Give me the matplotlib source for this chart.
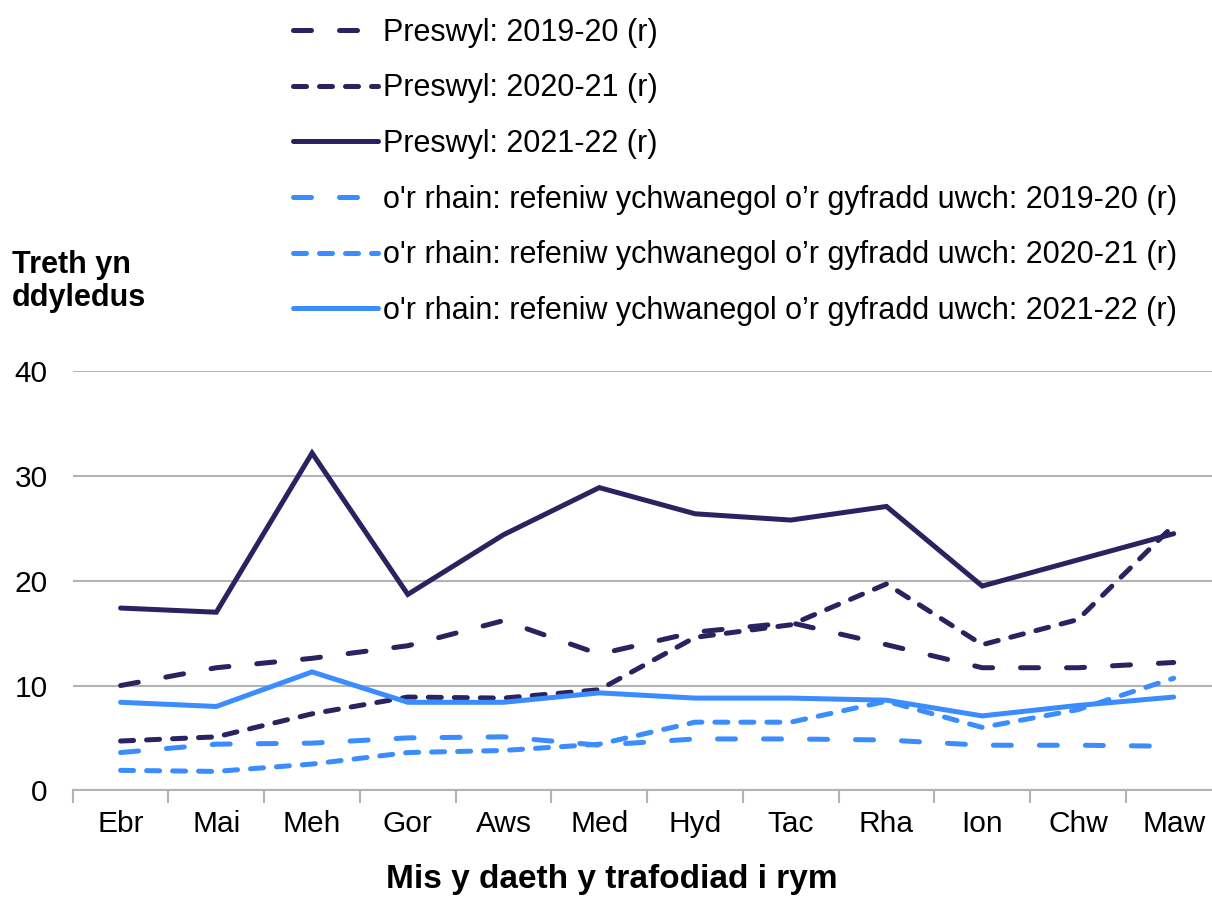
import numpy as np
import matplotlib
matplotlib.use("Agg")
import matplotlib.pyplot as plt

plt.rcParams['font.family'] = ['Liberation Sans', 'DejaVu Sans']

months = ['Ebr', 'Mai', 'Meh', 'Gor', 'Aws', 'Med', 'Hyd', 'Tac', 'Rha', 'Ion', 'Chw', 'Maw']

# Preswyl (dark navy)
pres_1920 = [10.0, 11.7, 12.6, 13.8, 16.2, 13.0, 15.1, 16.0, 13.9, 11.7, 11.7, 12.2]
pres_2021 = [4.7, 5.1, 7.3, 8.9, 8.8, 9.6, 14.6, 15.8, 19.7, 13.9, 16.3, 25.3]
pres_2122 = [17.4, 17.0, 32.2, 18.7, 24.4, 28.9, 26.4, 25.8, 27.1, 19.5, 22.0, 24.5]

# o'r rhain: refeniw ychwanegol (light blue)
ych_1920 = [3.6, 4.4, 4.5, 5.0, 5.1, 4.3, 4.9, 4.9, 4.8, 4.3, 4.3, 4.2]
ych_2021 = [1.9, 1.8, 2.5, 3.6, 3.8, 4.4, 6.5, 6.5, 8.5, 6.0, 7.7, 10.7]
ych_2122 = [8.4, 8.0, 11.3, 8.4, 8.4, 9.3, 8.8, 8.8, 8.6, 7.1, 8.1, 8.9]

labels = ['Preswyl: 2019-20 (r)', 'Preswyl: 2020-21 (r)', 'Preswyl: 2021-22 (r)',
          "o'r rhain: refeniw ychwanegol o\u2019r gyfradd uwch: 2019-20 (r)",
          "o'r rhain: refeniw ychwanegol o\u2019r gyfradd uwch: 2020-21 (r)",
          "o'r rhain: refeniw ychwanegol o\u2019r gyfradd uwch: 2021-22 (r)"]

navy = '#29235f'
blue = '#3a8cff'
long_dash = (0, (3.6, 5.6))
short_dash = (0, (2.6, 2.6))

fig = plt.figure(figsize=(12.12, 8.97), dpi=100)
ax = fig.add_axes([0.060, 0.119, 0.940, 0.467])

x = np.arange(len(months))
series = [
    (pres_1920, navy, long_dash),
    (pres_2021, navy, short_dash),
    (pres_2122, navy, '-'),
    (ych_1920, blue, long_dash),
    (ych_2021, blue, short_dash),
    (ych_2122, blue, '-'),
]
handles = []
for (vals, col, ls), lab in zip(series, labels):
    h, = ax.plot(x, vals, color=col, lw=3.6, linestyle=ls, label=lab,
                 dash_capstyle='round', solid_capstyle='round', solid_joinstyle='miter')
    handles.append(h)

ax.set_ylim(0, 40)
ax.set_yticks([0, 10, 20, 30, 40])
ax.set_xlim(-0.5, 11.4)
ax.set_xticks(x)
ax.set_xticklabels(months)
ax.set_xticks(np.arange(-0.5, 11.5, 1), minor=True)
ax.tick_params(axis='x', which='major', length=0, labelsize=21.5, pad=14)
ax.tick_params(axis='x', which='minor', length=9, width=1.5, color='#b3b3b3')
ax.tick_params(axis='y', length=0, labelsize=21.5, pad=18)
ax.grid(axis='y', color='#b3b3b3', lw=1.5)
ax.set_axisbelow(True)
for s in ['top', 'right', 'left']:
    ax.spines[s].set_visible(False)
ax.spines['bottom'].set_color('#b3b3b3')
ax.spines['bottom'].set_linewidth(1.5)

fig.legend(handles=handles, loc='upper left', bbox_to_anchor=(0.219, 1.011),
           frameon=False, fontsize=22, handlelength=2.8, handletextpad=0.16,
           labelspacing=0.84)

fig.text(0.010, 0.721, 'Treth yn\nddyledus', fontsize=22, fontweight='bold',
         ha='left', va='top', linespacing=1.1)
fig.text(0.505, 0.020, 'Mis y daeth y trafodiad i rym', fontsize=24,
         fontweight='bold', ha='center', va='center')

fig.savefig('out.png', dpi=100)
